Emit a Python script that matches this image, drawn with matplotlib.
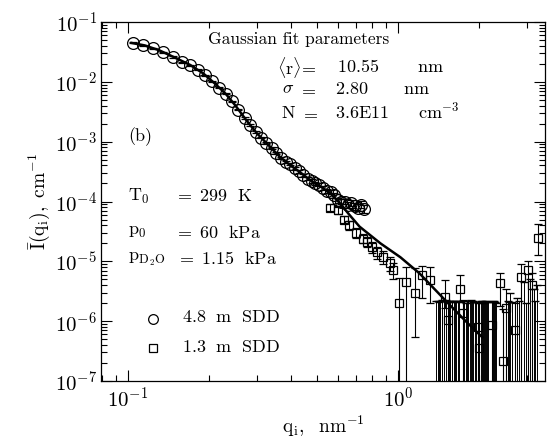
import numpy as np
import matplotlib
matplotlib.use('Agg')
import matplotlib.pyplot as plt
from matplotlib.ticker import NullFormatter

plt.rcParams['mathtext.fontset'] = 'cm'
plt.rcParams['font.family'] = ['cmr10', 'DejaVu Serif']
plt.rcParams['axes.formatter.use_mathtext'] = True

# 4.8 m SDD (circles)
circ_q = [0.104, 0.114, 0.124, 0.135, 0.147, 0.158, 0.170, 0.181, 0.193, 0.205,
          0.218, 0.230, 0.243, 0.256, 0.270, 0.283, 0.297, 0.311, 0.325, 0.340,
          0.354, 0.369, 0.384, 0.399, 0.414, 0.430, 0.446, 0.462, 0.478, 0.494,
          0.511, 0.528, 0.545, 0.562, 0.580, 0.598, 0.616, 0.634, 0.652, 0.671,
          0.690, 0.709, 0.728, 0.748]
circ_I = [4.47e-2, 4.12e-2, 3.67e-2, 3.15e-2, 2.60e-2, 2.14e-2, 1.91e-2, 1.58e-2, 1.29e-2, 1.02e-2,
          7.9e-3, 6.3e-3, 4.7e-3, 3.4e-3, 2.5e-3, 1.9e-3, 1.45e-3, 1.17e-3, 9.5e-4, 7.9e-4,
          6.5e-4, 5.4e-4, 4.6e-4, 4.2e-4, 3.6e-4, 3.2e-4, 2.75e-4, 2.4e-4, 2.2e-4, 2.0e-4,
          1.9e-4, 1.7e-4, 1.5e-4, 1.45e-4, 1.26e-4, 1.05e-4, 1.0e-4, 1.0e-4, 8.9e-5, 9.5e-5,
          8.3e-5, 7.9e-5, 8.9e-5, 7.6e-5]
circ_rel = [0.02, 0.02, 0.02, 0.02, 0.02, 0.02, 0.02, 0.02, 0.02, 0.02,
            0.02, 0.02, 0.02, 0.02, 0.03, 0.03, 0.03, 0.03, 0.03, 0.03,
            0.04, 0.04, 0.04, 0.04, 0.05, 0.05, 0.05, 0.05, 0.06, 0.06,
            0.06, 0.07, 0.07, 0.08, 0.08, 0.09, 0.10, 0.10, 0.11, 0.12,
            0.12, 0.13, 0.14, 0.15]

# 1.3 m SDD (squares): value, lower and upper error bounds
sq_q = [0.56, 0.60, 0.63, 0.66, 0.70, 0.74, 0.77, 0.80, 0.835, 0.88,
        0.93, 0.96, 1.01, 1.07, 1.16, 1.23, 1.31, 1.49, 1.53, 1.70,
        1.74, 1.98, 2.00, 2.22, 2.38, 2.45, 2.50, 2.70, 2.86, 3.02,
        3.13, 3.30]
sq_I = [7.9e-5, 7.1e-5, 5.0e-5, 4.0e-5, 3.0e-5, 2.4e-5, 2.1e-5, 1.74e-5, 1.41e-5, 1.20e-5,
        9.5e-6, 7.2e-6, 2.0e-6, 4.5e-6, 3.0e-6, 5.9e-6, 4.9e-6, 2.5e-6, 1.05e-6, 3.5e-6,
        1.35e-6, 7.9e-7, 3.5e-7, 8.5e-7, 4.3e-6, 2.2e-7, 1.66e-6, 7.1e-7, 5.5e-6, 7.1e-6,
        4.0e-6, 2.5e-5]
sq_lo = [6.9e-5, 6.1e-5, 4.3e-5, 3.4e-5, 2.5e-5, 2.0e-5, 1.75e-5, 1.4e-5, 1.1e-5, 9.2e-6,
         7.0e-6, 5.0e-6, 1e-9, 1e-9, 5.4e-7, 2.4e-6, 2.0e-6, 1.65e-6, 1e-9, 2.1e-6,
         1e-9, 1e-9, 1e-9, 1e-9, 1.8e-6, 1e-9, 1e-9, 1e-9, 1e-9, 1e-9,
         1e-9, 1.26e-5]
sq_hi = [9.0e-5, 8.2e-5, 5.8e-5, 4.7e-5, 3.6e-5, 2.9e-5, 2.55e-5, 2.1e-5, 1.75e-5, 1.5e-5,
         1.2e-5, 9.5e-6, 5.2e-6, 8.0e-6, 7.8e-6, 8.5e-6, 8.0e-6, 4.8e-6, 2.2e-6, 5.9e-6,
         2.3e-6, 2.0e-6, 2.0e-6, 2.1e-6, 6.3e-6, 1.6e-6, 3.5e-6, 2.0e-6, 8.9e-6, 1.0e-5,
         6.5e-6, 4.2e-5]

# 1.3 m SDD points with non-positive intensity: only upper error bound visible
neg_q = [1.38, 1.40, 1.42, 1.43, 1.45, 1.46, 1.48, 1.51, 1.54, 1.56,
         1.58, 1.59, 1.61, 1.62, 1.64, 1.66, 1.68, 1.76, 1.78, 1.80,
         1.82, 1.84, 1.86, 1.88, 1.90, 1.92, 1.94, 2.02, 2.04, 2.06,
         2.08, 2.10, 2.12, 2.14, 2.16, 2.25, 2.27, 2.29, 2.31, 2.55,
         2.58, 2.60, 2.65, 2.75, 2.80, 2.92, 2.97, 3.08, 3.18, 3.22,
         3.26]
neg_hi = [2.2e-6, 2.2e-6, 2.1e-6, 2.2e-6, 2.2e-6, 2.3e-6, 2.2e-6, 2.3e-6, 2.2e-6, 2.2e-6,
          2.1e-6, 2.1e-6, 2.2e-6, 2.2e-6, 2.2e-6, 2.2e-6, 2.1e-6, 2.2e-6, 2.0e-6, 2.2e-6,
          2.2e-6, 2.2e-6, 2.3e-6, 2.2e-6, 2.2e-6, 2.1e-6, 2.1e-6, 2.2e-6, 2.2e-6, 2.1e-6,
          2.0e-6, 2.2e-6, 2.2e-6, 2.1e-6, 2.1e-6, 2.2e-6, 2.2e-6, 2.1e-6, 2.0e-6, 2.2e-6,
          2.1e-6, 3.0e-6, 2.1e-6, 2.4e-6, 2.2e-6, 4.5e-6, 2.0e-6, 5.0e-6, 3.5e-6, 2.2e-6,
          4.0e-6]

# Gaussian fit curve
fit_q = [0.103, 0.115, 0.13, 0.15, 0.17, 0.19, 0.21, 0.23, 0.25, 0.275,
         0.30, 0.33, 0.366, 0.40, 0.423, 0.45, 0.484, 0.52, 0.56, 0.61,
         0.66, 0.72, 0.86, 1.02, 1.2, 1.5, 1.8, 2.05]
fit_I = [4.47e-2, 4.07e-2, 3.39e-2, 2.51e-2, 1.91e-2, 1.38e-2, 9.3e-3, 6.3e-3, 4.0e-3, 2.24e-3,
         1.38e-3, 8.9e-4, 5.5e-4, 4.0e-4, 3.35e-4, 2.7e-4, 2.1e-4, 1.74e-4, 1.38e-4, 9.3e-5,
         6.0e-5, 3.8e-5, 2.0e-5, 1.17e-5, 6.3e-6, 2.2e-6, 9.5e-7, 5.4e-7]

W, H = 553, 442
fig = plt.figure(figsize=(W / 100, H / 100), dpi=100)
ax = fig.add_axes([101 / W, 1 - 381 / H, 444 / W, 359 / H])
ax.set_xscale('log')
ax.set_yscale('log')

cq = np.array(circ_q); cI = np.array(circ_I); cr = np.array(circ_rel)
ax.errorbar(cq, cI, yerr=cI * cr, fmt='o', ms=8.5, mfc='none', mec='black', mew=0.9,
            ecolor='black', elinewidth=0.8, capsize=3, zorder=3)

sq = np.array(sq_q); sI = np.array(sq_I)
ax.errorbar(sq, sI, yerr=[sI - np.array(sq_lo), np.array(sq_hi) - sI], fmt='s', ms=6,
            mfc='none', mec='black', mew=0.9, ecolor='black', elinewidth=0.8,
            capsize=3, zorder=3)

nh = np.array(neg_hi)
ax.errorbar(neg_q, nh, yerr=[nh - 1e-9, np.zeros_like(nh)], fmt='none',
            ecolor='black', elinewidth=0.7, capsize=3, zorder=2)

ax.plot(fit_q, fit_I, color='black', lw=1.8, zorder=4)

ax.set_xlim(0.0794, 3.5)
ax.set_ylim(1e-7, 1e-1)
ax.xaxis.set_minor_formatter(NullFormatter())
ax.yaxis.set_minor_formatter(NullFormatter())
ax.tick_params(which='both', direction='in', top=True, right=True, labelsize=15, width=0.8)
ax.tick_params(which='major', length=8)
ax.tick_params(which='minor', length=4)
ax.tick_params(axis='x', which='major', pad=4)
ax.tick_params(axis='y', which='major', pad=3)
for s in ax.spines.values():
    s.set_linewidth(0.9)

ax.set_xlabel(r'$\mathrm{q_i,\ \ nm^{-1}}$', fontsize=14, labelpad=2)
ax.set_ylabel(r'$\bar{\mathrm{I}}\mathrm{(q_i),\ cm^{-1}}$', fontsize=14, labelpad=2)


def put(x, y, s, size=13):
    fig.text(x / W, 1 - y / H, s, fontsize=size, va='center', ha='left')


put(208, 39, 'Gaussian fit parameters', 12.5)
put(277, 67, r'$\langle\mathrm{r}\rangle\!=$')
put(337, 67, r'$\mathrm{10.55}$')
put(417, 67, r'$\mathrm{nm}$')
put(282, 89, r'$\sigma$')
put(298, 89, r'$=$')
put(335, 89, r'$\mathrm{2.80}$')
put(403, 89, r'$\mathrm{nm}$')
put(281, 113, r'$\mathrm{N}$')
put(300, 113, r'$=$')
put(335, 113, r'$\mathrm{3.6E11}$')
put(418, 111, r'$\mathrm{cm^{-3}}$')

put(128, 137, '(b)')
put(128, 196, r'$\mathrm{T_0}$')
put(128, 232, r'$\mathrm{p_0}$')
put(128, 259, r'$\mathrm{p_{D_2O}}$')
put(174, 196, r'$=\ \mathrm{299\ \ K}$')
put(174, 232, r'$=\ \mathrm{60\ \ kPa}$')
put(176, 259, r'$=\ \mathrm{1.15\ \ kPa}$')

fig.lines.append(plt.Line2D([153 / W], [1 - 319 / H], marker='o', ms=7, mfc='none',
                            mec='black', mew=0.9, transform=fig.transFigure))
fig.lines.append(plt.Line2D([153 / W], [1 - 348 / H], marker='s', ms=6, mfc='none',
                            mec='black', mew=0.9, transform=fig.transFigure))
put(182, 317, r'$\mathrm{4.8\ \ m\ \ SDD}$')
put(182, 347, r'$\mathrm{1.3\ \ m\ \ SDD}$')

fig.savefig('out.png', dpi=100)
